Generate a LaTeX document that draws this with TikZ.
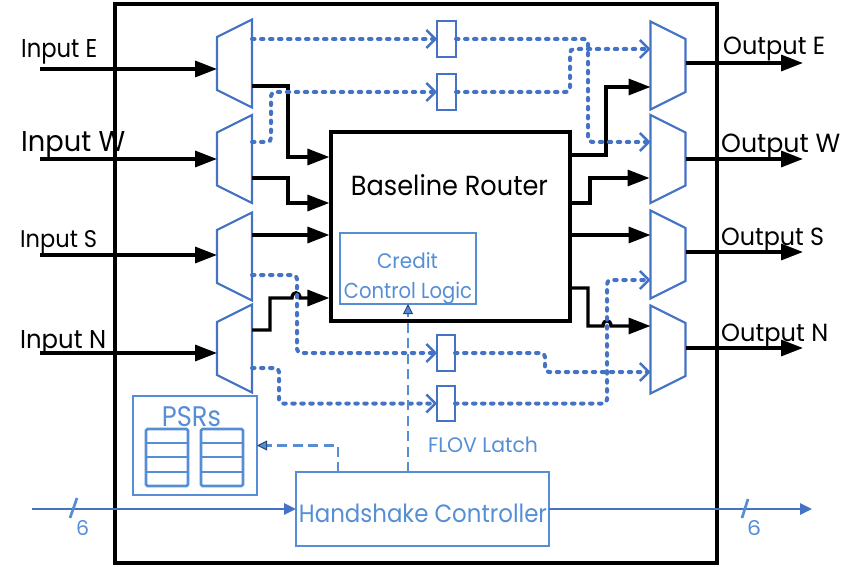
\documentclass[tikz,border=0pt]{standalone}
\usepackage{fontspec}
\setmainfont{Poppins}
\usetikzlibrary{arrows.meta}
\definecolor{muxblue}{RGB}{68,114,196}
\definecolor{boxblue}{RGB}{85,142,213}
\definecolor{tipdark}{RGB}{40,70,125}
\newcommand\fitw[3]{\resizebox{#1}{#2}{#3}}
\begin{document}
\begin{tikzpicture}[x=1pt,y=-1pt,
  blk/.style={line width=3.3pt,-{Triangle[length=22pt,width=16pt]}},
  muxline/.style={muxblue,line width=2.2pt,line join=miter},
  dotp/.style={muxblue,line width=4pt,line cap=round,dash pattern=on 2.5pt off 6.5pt,rounded corners=4pt,
    -{Straight Barb[length=9pt,width=18pt,line width=2.4pt]}},
  dsh/.style={boxblue,line width=2.6pt,dash pattern=on 10pt off 5.5pt,
    -{Triangle[length=10pt,width=10pt,fill=boxblue,color=tipdark,line width=1pt]}},
  bus/.style={muxblue,line width=2.8pt,-{Triangle[length=12pt,width=11pt]}},
  bluebox/.style={draw=boxblue,line width=2.7pt,inner sep=0pt,outer sep=0pt},
  latchbox/.style={draw=muxblue,line width=2.2pt,inner sep=0pt,outer sep=0pt,minimum width=19pt,minimum height=36pt},
  lbl/.style={inner sep=0pt,anchor=base west},
  btxt/.style={inner sep=0pt,anchor=base,text=boxblue},
  inmux/.pic={\draw[muxline] (-17.5,-26.5) -- (17.5,-44) -- (17.5,44) -- (-17.5,26.5) -- cycle;},
  outmux/.pic={\draw[muxline] (-17.5,-44) -- (17.5,-26.5) -- (17.5,26.5) -- (-17.5,44) -- cycle;}
]
\useasboundingbox (0,0) rectangle (862,567);

% outer frame
\node[draw,line width=3.2pt,inner sep=0pt,minimum width=602pt,minimum height=559pt] (chip) at (416,283.5) {};

% router and credit logic
\node[draw,line width=3.2pt,inner sep=0pt,minimum width=239pt,minimum height=189pt] (router) at (450.5,226.5) {};
\node[lbl,anchor=base] (rtxt) at (449.5,195) {\fitw{197pt}{21pt}{Baseline Router}};
\node[bluebox,minimum width=136pt,minimum height=71pt] (credit) at (408,268.5) {};
\node[btxt] (ctxt1) at (407.5,268) {\fitw{61pt}{16pt}{Credit}};
\node[btxt] (ctxt2) at (408,298) {\fitw{128pt}{16.5pt}{Control Logic}};

% muxes
\pic (mE) at (234.5,63.5) {inmux};
\pic (mW) at (234.5,159) {inmux};
\pic (mS) at (234.5,256.5) {inmux};
\pic (mN) at (234.5,348.5) {inmux};
\pic (oE) at (668,65.5) {outmux};
\pic (oW) at (668,159) {outmux};
\pic (oS) at (668,254.5) {outmux};
\pic (oN) at (668,349.5) {outmux};

% latches
\node[latchbox] (L1) at (446.5,39) {};
\node[latchbox] (L2) at (446.5,92) {};
\node[latchbox,minimum width=18pt] (L3) at (446,353) {};
\node[latchbox,minimum width=18pt,minimum height=35pt] (L4) at (446,403.5) {};
\node[btxt] (flov) at (483,452) {\fitw{110pt}{15.5pt}{FLOV Latch}};

% ports
\coordinate (inE) at (40,69);   \coordinate (mE-in) at (217,69);
\coordinate (inW) at (40,159);  \coordinate (mW-in) at (217,159);
\coordinate (inS) at (40,255);  \coordinate (mS-in) at (217,255);
\coordinate (inN) at (40,353);  \coordinate (mN-in) at (217,353);
\coordinate (oE-out) at (685.5,63);  \coordinate (outE) at (803,63);
\coordinate (oW-out) at (685.5,159); \coordinate (outW) at (803,159);
\coordinate (oS-out) at (685.5,252); \coordinate (outS) at (803,252);
\coordinate (oN-out) at (685.5,348); \coordinate (outN) at (803,348);

% external inputs / outputs
\draw[blk] (inE) -- (mE-in);
\draw[blk] (inW) -- (mW-in);
\draw[blk] (inS) -- (mS-in);
\draw[blk] (inN) -- (mN-in);
\draw[blk] (oE-out) -- (outE);
\draw[blk] (oW-out) -- (outW);
\draw[blk] (oS-out) -- (outS);
\draw[blk] (oN-out) -- (outN);

\node[lbl] (tiE) at (21,58) {\fitw{76pt}{18pt}{Input E}};
\node[lbl] (tiW) at (21,152) {\fitw{104pt}{20pt}{Input W}};
\node[lbl] (tiS) at (20,247) {\fitw{77pt}{17pt}{Input S}};
\node[lbl] (tiN) at (20,348) {\fitw{86pt}{18pt}{Input N}};
\node[lbl] (toE) at (723,55) {\fitw{102pt}{17.5pt}{Output E}};
\node[lbl] (toW) at (721,153) {\fitw{119pt}{18.5pt}{Output W}};
\node[lbl] (toS) at (721,245) {\fitw{103pt}{17.5pt}{Output S}};
\node[lbl] (toN) at (721,341) {\fitw{107pt}{17.5pt}{Output N}};

% mux -> router
\draw[blk] (252,86) -- (288,86) -- (288,157) -- (router.west |- 0,157);
\draw[blk] (252,178) -- (288,178) -- (288,203) -- (router.west |- 0,203);
\draw[blk] (252,235) -- (router.west |- 0,235);
\draw[blk] (252,330) -- (270,330) -- (270,298) -- (292,298) .. controls (292,291) and (300,291) .. (300,298) -- (router.west |- 0,298);

% router -> mux
\draw[blk] (router.east |- 0,155) -- (606,155) -- (606,87) -- (650.5,87);
\draw[blk] (router.east |- 0,203) -- (590,203) -- (590,178) -- (649.5,178);
\draw[blk] (router.east |- 0,235) -- (650.5,235);
\draw[blk] (router.east |- 0,288) -- (588,288) -- (588,326) -- (603,326) .. controls (603,319) and (611,319) .. (611,326) -- (650.5,326);

% bypass paths through FLOV latches
\draw[dotp] (252,39) -- (L1.west);
\draw[dotp] (L1.east) -- (588,39) -- (588,142) -- (650.5,142);
\draw[dotp] (252,142) -- (271,142) -- (271,92) -- (L2.west);
\draw[dotp] (L2.east) -- (570,92) -- (570,49) -- (650.5,49);
\draw[dotp] (252,275) -- (297,275) -- (297,353) -- (L3.west);
\draw[dotp] (L3.east) -- (545,353) -- (545,372) -- (650.5,372);
\draw[dotp] (252,368) -- (279,368) -- (279,403.5) -- (L4.west);
\draw[dotp] (L4.east) -- (607,403.5) -- (607,280) -- (650.5,280);

% PSRs
\node[bluebox,minimum width=124pt,minimum height=99pt] (psr) at (195,445.5) {};
\node[btxt] (psrtxt) at (191.5,426) {\fitw{59pt}{20pt}{PSRs}};
\foreach \x in {146,201}{
  \draw[boxblue,line width=2.7pt,rounded corners=1.5pt] (\x,429) rectangle (\x+42,486);
  \foreach \y in {443,457,472}{\draw[boxblue,line width=2.7pt] (\x,\y) -- (\x+42,\y);}
}

% handshake controller
\node[bluebox,minimum width=253pt,minimum height=74pt] (hs) at (422.5,509) {};
\node[btxt] (hstxt) at (423,522) {\fitw{248pt}{18.5pt}{Handshake Controller}};
\coordinate (hsT) at (338,472);
\draw[dsh] (hs.north -| credit.south) -- (credit.south);
\draw[dsh] (hsT) |- (psr.east);

% serial bus
\coordinate (busL) at (32,509);
\coordinate (busR) at (812,509);
\draw[bus] (busL) -- (hs.west);
\draw[bus] (hs.east) -- (busR);
\draw[boxblue,line width=2.7pt] (70,518) -- (77,498);
\draw[boxblue,line width=2.7pt] (742,518) -- (748,499);
\node[btxt] (sixL) at (82.5,535) {\fitw{13pt}{15pt}{6}};
\node[btxt] (sixR) at (754,535) {\fitw{14pt}{15pt}{6}};
\end{tikzpicture}
\end{document}
